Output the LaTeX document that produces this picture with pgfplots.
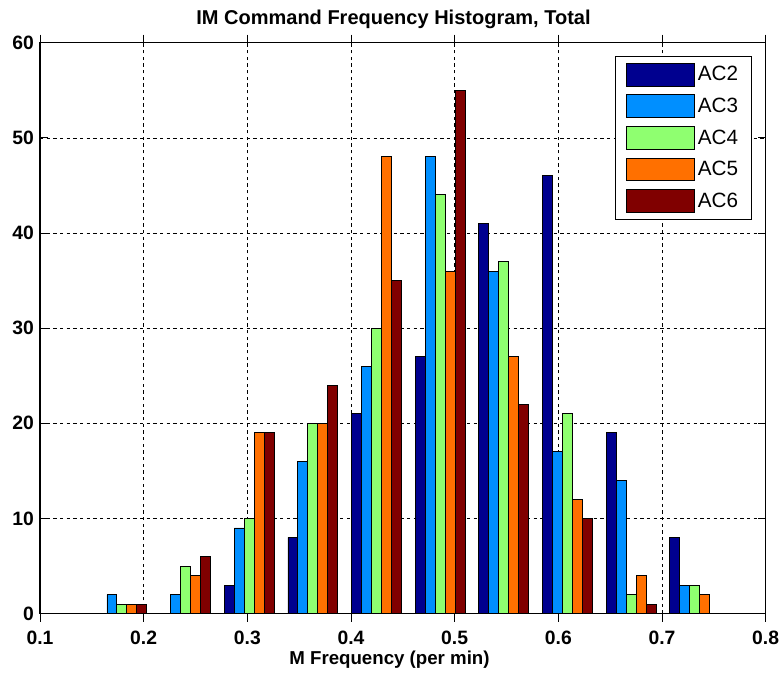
\documentclass[border=0pt]{standalone}
\usepackage{fontspec}
\setmainfont{Liberation Sans}
\usepackage{pgfplots}
\pgfplotsset{compat=1.18}
\usepackage{pgfplotstable}
\usetikzlibrary{calc}
\definecolor{cA}{RGB}{0,0,143}
\definecolor{cB}{RGB}{0,143,255}
\definecolor{cC}{RGB}{143,255,112}
\definecolor{cD}{RGB}{255,112,0}
\definecolor{cE}{RGB}{128,0,0}
\pgfplotstableread{
x AC2 AC3 AC4 AC5 AC6
0.1790 0 2 1 1 1
0.2404 0 2 5 4 6
0.3018 3 9 10 19 19
0.3632 8 16 20 20 24
0.4246 21 26 30 48 35
0.4860 27 48 44 36 55
0.5474 41 36 37 27 22
0.6088 46 17 21 12 10
0.6702 19 14 2 4 1
0.7316 8 3 3 2 0
}\histdata
\pgfplotsset{
  mylegend/.style={legend image code/.code={\draw[#1,draw=black,line width=0.7pt] (0pt,-8.5pt) rectangle (51pt,8.5pt);}},
}
\begin{document}
\begin{tikzpicture}
\begin{axis}[
  scale only axis, width=544pt, height=428pt,
  xmin=0.1, xmax=0.8, ymin=0, ymax=60,
  xtick={0.1,0.2,0.3,0.4,0.5,0.6,0.7,0.8},
  xticklabels={0.1,0.2,0.3,0.4,0.5,0.6,0.7,0.8},
  ytick={0,10,20,30,40,50,60},
  yticklabels={0,10,20,30,40,50,60},
  tick label style={font=\bfseries\fontsize{14.5}{16}\selectfont},
  xticklabel style={yshift=-3.5pt},
  yticklabel style={xshift=-1pt},
  tick align=inside, xtick pos=both, ytick pos=both,
  major tick length=6pt,
  tick style={black, line width=0.6pt},
  grid=major,
  major grid style={black, dash pattern=on 2.5pt off 2.5pt, line width=0.5pt},
  axis line style={line width=1pt},
  title={IM Command Frequency Histogram, Total},
  title style={font=\bfseries\fontsize{15}{17}\selectfont, at={(0.5,1)}, anchor=base, yshift=7.5pt, xshift=-7pt},
  xlabel={M Frequency (per min)},
  xlabel style={font=\bfseries\fontsize{14}{16}\selectfont, at={(0.5,0)}, anchor=base, yshift=-38pt, xshift=-10pt},
  ybar, bar width=0.0096,
  legend style={at={(0.981,0.977)}, anchor=north east, draw=black, line width=0.6pt,
    font=\fontsize{15.5}{18}\selectfont, row sep=6pt, inner xsep=8pt, inner ysep=5pt},
  legend cell align=left,
]
\addplot[fill=cA, draw=black, line width=0.7pt, bar shift=-0.0192, mylegend] table[x=x,y=AC2]{\histdata};
\addplot[fill=cB, draw=black, line width=0.7pt, bar shift=-0.0096, mylegend] table[x=x,y=AC3]{\histdata};
\addplot[fill=cC, draw=black, line width=0.7pt, bar shift=0pt, mylegend] table[x=x,y=AC4]{\histdata};
\addplot[fill=cD, draw=black, line width=0.7pt, bar shift=0.0096, mylegend] table[x=x,y=AC5]{\histdata};
\addplot[fill=cE, draw=black, line width=0.7pt, bar shift=0.0192, mylegend] table[x=x,y=AC6]{\histdata};
\legend{AC2,AC3,AC4,AC5,AC6}
\end{axis}
\pgfresetboundingbox
\path ($(current axis.south west)+(-30pt,-46pt)$) rectangle ($(current axis.north east)+(10pt,32pt)$);
\end{tikzpicture}
\end{document}
